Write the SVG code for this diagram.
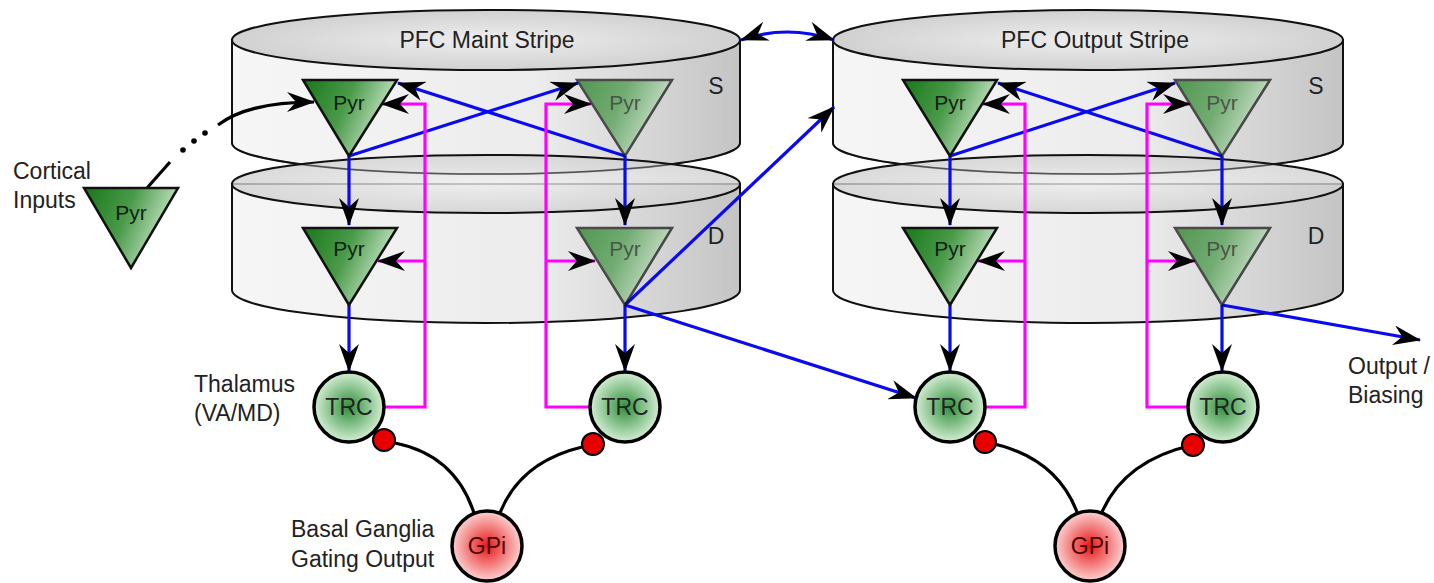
<svg xmlns="http://www.w3.org/2000/svg" width="1434" height="583" viewBox="0 0 1434 583">
<style>
text{font-family:"Liberation Sans",Arial,sans-serif;fill:#222;}
.lbl{font-size:23px;}
.c{text-anchor:middle;}
.cylb{fill:url(#gBody);stroke:#111;stroke-width:2;}
.cylt{fill:url(#gTop);stroke:#111;stroke-width:2;}
.cyltd{fill:url(#gTop);fill-opacity:0.8;stroke:#111;stroke-width:2;}
.pyr{fill:url(#gPyr);stroke:#111;stroke-width:2.5;stroke-linejoin:miter;}
.fade{opacity:0.72;}
.ptx{font-size:21px;text-anchor:middle;fill:#112211;}
.trc{fill:url(#gTrc);stroke:#000;stroke-width:3.5;}
.gpi{fill:url(#gGpi);stroke:#000;stroke-width:3.5;}
.dot{fill:#e80000;stroke:#000;stroke-width:2;}
.blue{fill:none;stroke:#0a0af0;stroke-width:3.2;marker-end:url(#arr);}
.mag{fill:none;stroke:#ff00ff;stroke-width:3.2;}
.maga{marker-end:url(#arr);}
.blk{fill:none;stroke:#000;stroke-width:3.2;}
</style>
<defs>
<linearGradient id="gBody" x1="0" y1="0" x2="1" y2="0">
<stop offset="0" stop-color="#f6f6f6"/>
<stop offset="0.6" stop-color="#ececec"/>
<stop offset="1" stop-color="#c4c4c4"/>
</linearGradient>
<radialGradient id="gTop" cx="0.5" cy="0.5" r="0.6">
<stop offset="0" stop-color="#eeeeee"/>
<stop offset="1" stop-color="#cbcbcb"/>
</radialGradient>
<linearGradient id="gPyr" x1="0" y1="0" x2="1" y2="0.35">
<stop offset="0" stop-color="#187818"/>
<stop offset="0.5" stop-color="#4a9a4a"/>
<stop offset="1" stop-color="#d2ecd2"/>
</linearGradient>
<radialGradient id="gTrc" cx="0.5" cy="0.5" r="0.5">
<stop offset="0" stop-color="#2f8f3a"/>
<stop offset="1" stop-color="#d4eed4"/>
</radialGradient>
<radialGradient id="gGpi" cx="0.5" cy="0.5" r="0.5">
<stop offset="0" stop-color="#e81818"/>
<stop offset="1" stop-color="#fcd2d2"/>
</radialGradient>
<marker id="arr" viewBox="0 0 28 20" refX="27" refY="10" markerWidth="28" markerHeight="20" markerUnits="userSpaceOnUse" orient="auto-start-reverse">
<path d="M0,0 L28,10 L0,20 L9,10 Z" fill="#000"/>
</marker>
</defs>

<g id="cyl-maint">
<path class="cylb" d="M232,40 L232,143 A254,31 0 0 0 740,143 L740,40 Z"/>
<ellipse class="cylt" cx="486" cy="40" rx="254" ry="30"/>
<path class="cylb" d="M232,184 L232,290 A254,33 0 0 0 740,290 L740,184 Z"/>
<ellipse class="cyltd" cx="486" cy="184" rx="254" ry="29"/>
<path d="M232,143 A254,31 0 0 0 740,143" fill="none" stroke="#111" stroke-width="1.5" stroke-opacity="0.6"/>
<text class="lbl c" x="487" y="48">PFC Maint Stripe</text>
<text class="lbl c" x="716" y="94">S</text>
<text class="lbl c" x="716" y="244">D</text>
</g>

<g id="cyl-output">
<path class="cylb" d="M833,40 L833,143 A255,31 0 0 0 1343,143 L1343,40 Z"/>
<ellipse class="cylt" cx="1088" cy="40" rx="255" ry="30"/>
<path class="cylb" d="M833,184 L833,290 A255,33 0 0 0 1343,290 L1343,184 Z"/>
<ellipse class="cyltd" cx="1088" cy="184" rx="255" ry="29"/>
<path d="M833,143 A255,31 0 0 0 1343,143" fill="none" stroke="#111" stroke-width="1.5" stroke-opacity="0.6"/>
<text class="lbl c" x="1095" y="48">PFC Output Stripe</text>
<text class="lbl c" x="1316" y="94">S</text>
<text class="lbl c" x="1316" y="244">D</text>
</g>

<g id="connectors">
<path class="blue" d="M349,156 L349,225"/>
<path class="blue" d="M625,156 L625,225"/>
<path class="blue" d="M349,156 L578,83"/>
<path class="blue" d="M625,156 L398,83"/>
<path class="blue" d="M349,305 L349,371"/>
<path class="blue" d="M625,305 L625,371"/>
<path class="blue" d="M625,305 L834,107"/>
<path class="blue" d="M625,305 L916,398"/>
<path class="blue" d="M741,40 Q787,24 834,40" style="marker-start:url(#arr)"/>
<path class="blue" d="M950,156 L950,225"/>
<path class="blue" d="M1222,156 L1222,225"/>
<path class="blue" d="M950,156 L1175,83"/>
<path class="blue" d="M1222,156 L998,83"/>
<path class="blue" d="M950,305 L950,371"/>
<path class="blue" d="M1222,305 L1222,371"/>
<path class="blue" d="M1222,305 L1420,340"/>

<path class="mag maga" d="M384,407 L425,407 L425,104 L382,104"/>
<path class="mag maga" d="M425,261 L378,261"/>
<path class="mag maga" d="M590,407 L546,407 L546,104 L591,104"/>
<path class="mag maga" d="M546,261 L595,261"/>
<path class="mag maga" d="M985,407 L1025,407 L1025,104 L983,104"/>
<path class="mag maga" d="M1025,261 L978,261"/>
<path class="mag maga" d="M1189,407 L1147,407 L1147,104 L1190,104"/>
<path class="mag maga" d="M1147,261 L1195,261"/>

<path class="blk" d="M147,188 L170,162"/>
<circle cx="183" cy="150" r="2.8" fill="#000"/>
<circle cx="194" cy="141" r="2.8" fill="#000"/>
<circle cx="205" cy="133" r="2.8" fill="#000"/>
<path class="blk" d="M218,125 Q248,102 314,102" style="marker-end:url(#arr)"/>

<path class="blk" d="M474,513 Q455,455 395,443"/>
<path class="blk" d="M500,513 Q520,462 582,447"/>
<path class="blk" d="M1077,512 Q1055,455 985,442"/>
<path class="blk" d="M1102,512 Q1125,460 1193,445"/>
</g>

<g id="pyr-cortical"><polygon class="pyr" points="84,188 178,188 131,268"/><text class="ptx" x="131" y="220">Pyr</text></g>
<g id="pyr-maint-s1"><polygon class="pyr" points="303,80 397,80 349,156"/><text class="ptx" x="349" y="110">Pyr</text></g>
<g id="pyr-maint-s2" class="fade"><polygon class="pyr" points="577,80 672,80 625,156"/><text class="ptx" x="625" y="110">Pyr</text></g>
<g id="pyr-maint-d1"><polygon class="pyr" points="303,228 397,228 349,305"/><text class="ptx" x="349" y="256">Pyr</text></g>
<g id="pyr-maint-d2" class="fade"><polygon class="pyr" points="577,228 672,228 625,305"/><text class="ptx" x="625" y="256">Pyr</text></g>
<g id="pyr-out-s1"><polygon class="pyr" points="903,80 997,80 950,156"/><text class="ptx" x="950" y="110">Pyr</text></g>
<g id="pyr-out-s2" class="fade"><polygon class="pyr" points="1175,80 1270,80 1222,156"/><text class="ptx" x="1222" y="110">Pyr</text></g>
<g id="pyr-out-d1"><polygon class="pyr" points="903,228 997,228 950,305"/><text class="ptx" x="950" y="256">Pyr</text></g>
<g id="pyr-out-d2" class="fade"><polygon class="pyr" points="1175,228 1270,228 1222,305"/><text class="ptx" x="1222" y="256">Pyr</text></g>

<g id="trc1"><circle class="trc" cx="349" cy="407" r="35"/><text class="lbl c" x="349" y="415">TRC</text></g>
<g id="trc2"><circle class="trc" cx="625" cy="407" r="35"/><text class="lbl c" x="625" y="415">TRC</text></g>
<g id="trc3"><circle class="trc" cx="950" cy="407" r="35"/><text class="lbl c" x="950" y="415">TRC</text></g>
<g id="trc4"><circle class="trc" cx="1223" cy="407" r="35"/><text class="lbl c" x="1223" y="415">TRC</text></g>

<g id="dots">
<circle class="dot" cx="384" cy="440" r="11"/>
<circle class="dot" cx="593" cy="444" r="11"/>
<circle class="dot" cx="985" cy="442" r="11"/>
<circle class="dot" cx="1193" cy="445" r="11"/>
</g>

<g id="gpi1"><circle class="gpi" cx="487" cy="546" r="35"/><text class="lbl c" x="487" y="554" style="fill:#4a0000">GPi</text></g>
<g id="gpi2"><circle class="gpi" cx="1090" cy="546" r="35"/><text class="lbl c" x="1090" y="554" style="fill:#4a0000">GPi</text></g>

<g id="labels">
<text class="lbl" x="13" y="179">Cortical</text>
<text class="lbl" x="13" y="208">Inputs</text>
<text class="lbl" x="194" y="392">Thalamus</text>
<text class="lbl" x="194" y="421">(VA/MD)</text>
<text class="lbl" x="291" y="537">Basal Ganglia</text>
<text class="lbl" x="291" y="567">Gating Output</text>
<text class="lbl" x="1348" y="374">Output /</text>
<text class="lbl" x="1348" y="403">Biasing</text>
</g>
</svg>
